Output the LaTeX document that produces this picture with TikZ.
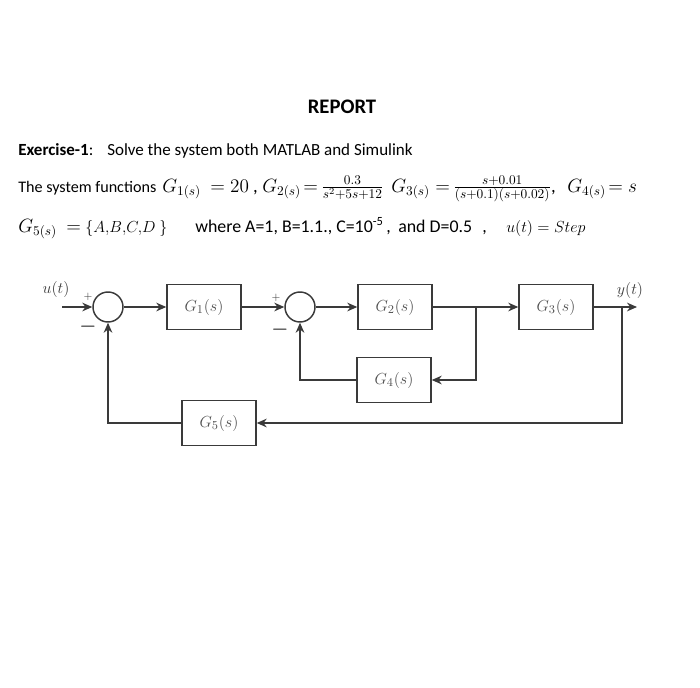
\documentclass[tikz,border=0pt]{standalone}
\usepackage{fontspec}
\setmainfont{Carlito}
\usetikzlibrary{arrows.meta,positioning}
\definecolor{lijngrijs}{HTML}{3A3A3A}
\definecolor{tekstgrijs}{HTML}{505050}

\begin{document}
\begin{tikzpicture}[x=0.75pt,y=-0.75pt,
	blok/.style={draw=lijngrijs,line width=1.1pt,minimum width=55.5pt,minimum height=33.75pt,inner sep=0pt,text=tekstgrijs,font=\fontsize{12.5}{14}\selectfont},
	som/.style={draw=lijngrijs,line width=1.1pt,circle,minimum size=22.5pt,inner sep=0pt},
	pijl/.style={draw=lijngrijs,line width=1.1pt,-{Stealth[length=7.5pt,width=6.5pt]}},
	tekst/.style={anchor=base west,inner sep=0pt,font=\fontsize{12.1}{15}\selectfont},
	wiskunde/.style={anchor=base west,inner sep=0pt,font=\fontsize{14}{16}\selectfont},
	teken/.style={inner sep=0pt,text=lijngrijs}]
	\useasboundingbox[fill=white] (0,0) rectangle (700,687);
	% kop en opgave
	\node[anchor=base,inner sep=0pt,font=\fontsize{15.5}{18}\selectfont\bfseries] (titel) at (342,113) {REPORT};
	\node[tekst,font=\fontsize{12.75}{15}\selectfont] (oefening) at (18,155) {\textbf{Exercise-1}:};
	\node[tekst,font=\fontsize{12.75}{15}\selectfont] (opdracht) at (107,155) {Solve the system both MATLAB and Simulink};
	% regel 2
	\node[tekst] (functies) at (18,192) {The system functions};
	\node[wiskunde] (fG1) at (162,192) {$G_{1(s)}$};
	\node[wiskunde] (isG1) at (210,192) {$= 20$ ,};
	\node[wiskunde] (fG2) at (262,192) {$G_{2(s)}$};
	\node[wiskunde] (isG2) at (303,192) {$=$};
	\node[wiskunde] (brG2) at (321,192) {$\frac{0.3}{s^2+5s+12}$};
	\node[wiskunde] (fG3) at (391,192) {$G_{3(s)}$};
	\node[wiskunde] (isG3) at (435,192) {$=$};
	\node[wiskunde] (brG3) at (453,192) {$\frac{s+0.01}{(s+0.1)(s+0.02)}$,};
	\node[wiskunde] (fG4) at (567,192) {$G_{4(s)}$};
	\node[wiskunde] (isG4) at (608,192) {$= s$};
	% regel 3
	\node[wiskunde] (fG5) at (18,232) {$G_{5(s)}$};
	\node[wiskunde] (isG5) at (66,232) {$=$};
	\node[wiskunde,font=\fontsize{12.5}{15}\selectfont] (verzG5) at (85,232) {$\{A,\!B,\!C,\!D\ \}$};
	\node[tekst,font=\fontsize{13.4}{16}\selectfont] (waarden) at (195,232) {where A=1, B=1.1., C=10\textsuperscript{-5}};
	\node[tekst,font=\fontsize{13.4}{16}\selectfont] (komma1) at (386,232) {,};
	\node[tekst,font=\fontsize{13.4}{16}\selectfont] (waardeD) at (398,232) {and D=0.5};
	\node[tekst,font=\fontsize{13.4}{16}\selectfont] (komma2) at (482,232) {,};
	\node[wiskunde,font=\fontsize{11.5}{14}\selectfont] (stap) at (506,232) {$u(t) = Step$};
	% blokschema
	\node[som] (som1) at (108,307) {};
	\node[som] (som2) at (300,307) {};
	\node[blok] (blokG1) at (204,307) {$G_1(s)$};
	\node[blok] (blokG2) at (395,307) {$G_2(s)$};
	\node[blok] (blokG3) at (556,307) {$G_3(s)$};
	\node[blok] (blokG4) at (394,380) {$G_4(s)$};
	\node[blok] (blokG5) at (219,423) {$G_5(s)$};
	\coordinate (ingang) at (62,307);
	\coordinate (uitgang) at (637,307);
	\coordinate (tak1) at (476,307);
	\coordinate (tak2) at (622,307);
	\draw[pijl] (ingang) -- (som1);
	\draw[pijl] (som1) -- (blokG1);
	\draw[pijl] (blokG1) -- (som2);
	\draw[pijl] (som2) -- (blokG2);
	\draw[pijl] (blokG2) -- (blokG3);
	\draw[pijl] (blokG3) -- (uitgang);
	\draw[pijl] (tak1) |- (blokG4);
	\draw[pijl] (blokG4) -| (som2);
	\draw[pijl] (tak2) |- (blokG5);
	\draw[pijl] (blokG5) -| (som1);
	% labels en tekens
	\node[teken,font=\fontsize{11.5}{13}\selectfont] (ulabel) at (56,289) {$u(t)$};
	\node[teken,font=\fontsize{11.5}{13}\selectfont] (ylabel) at (630,290) {$y(t)$};
	\node[teken,font=\fontsize{8}{9}\selectfont] (plus1) at (88,297) {$+$};
	\node[teken,font=\fontsize{15}{17}\selectfont\boldmath] (min1) at (88,327) {$-$};
	\node[teken,font=\fontsize{8}{9}\selectfont] (plus2) at (276,298) {$+$};
	\node[teken,font=\fontsize{15}{17}\selectfont\boldmath] (min2) at (280,330) {$-$};
\end{tikzpicture}
\end{document}
